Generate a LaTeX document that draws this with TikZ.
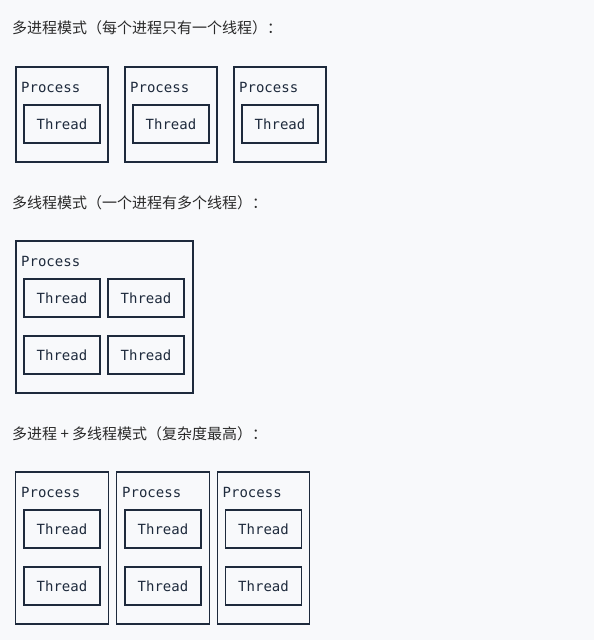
\documentclass[tikz,border=0pt]{standalone}
\usepackage{fontspec}
\newfontfamily\cjk{Noto Sans CJK SC}
\newfontfamily\monofont{DejaVu Sans Mono}
\definecolor{bg}{HTML}{F8F9FB}
\definecolor{ink}{HTML}{1E2A3C}
\definecolor{txt}{HTML}{2A2A2A}
\begin{document}
\begin{tikzpicture}[x=1pt,y=-1pt,
  title/.style={anchor=west,inner sep=0pt,text=txt,font=\cjk\fontsize{15}{18}\selectfont},
  procbox/.style={draw=ink,line width=1.1pt,inner sep=0pt},
  proclabel/.style={anchor=west,inner sep=0pt,text=ink,font=\monofont\fontsize{14}{16}\selectfont},
  threadbox/.style={draw=ink,line width=1.1pt,inner sep=0pt,minimum width=76pt,minimum height=38pt,text=ink,font=\monofont\fontsize{14}{16}\selectfont}]
\fill[bg] (0,0) rectangle (594,640);
\useasboundingbox (0,0) rectangle (594,640);
% Section 1
\node[title] (t1) at (12,28) {多进程模式（每个进程只有一个线程）：};
\foreach \i/\x in {1/16,2/125,3/234}{
  \node[procbox,minimum width=92pt,minimum height=95pt] (p\i) at (\x+46,114.5) {};
  \node[proclabel] (pl\i) at (\x+5,87) {Process};
  \node[threadbox] (th\i) at (\x+46,124) {Thread};
}
% Section 2
\node[title] (t2) at (12,203) {多线程模式（一个进程有多个线程）：};
\node[procbox,minimum width=177pt,minimum height=152pt] (q) at (104.5,317) {};
\node[proclabel] (ql) at (21,261) {Process};
\node[threadbox] (qa) at (62,298) {Thread};
\node[threadbox] (qb) at (146,298) {Thread};
\node[threadbox] (qc) at (62,355) {Thread};
\node[threadbox] (qd) at (146,355) {Thread};
% Section 3
\node[title] (t3) at (12,434) {多进程 + 多线程模式（复杂度最高）：};
\foreach \i/\x in {1/16,2/117,3/217.5}{
  \node[procbox,minimum width=92.5pt,minimum height=152pt] (r\i) at (\x+46,548) {};
  \node[proclabel] (rl\i) at (\x+5,492) {Process};
  \node[threadbox] (ra\i) at (\x+46,529) {Thread};
  \node[threadbox] (rb\i) at (\x+46,586) {Thread};
}
\end{tikzpicture}
\end{document}
